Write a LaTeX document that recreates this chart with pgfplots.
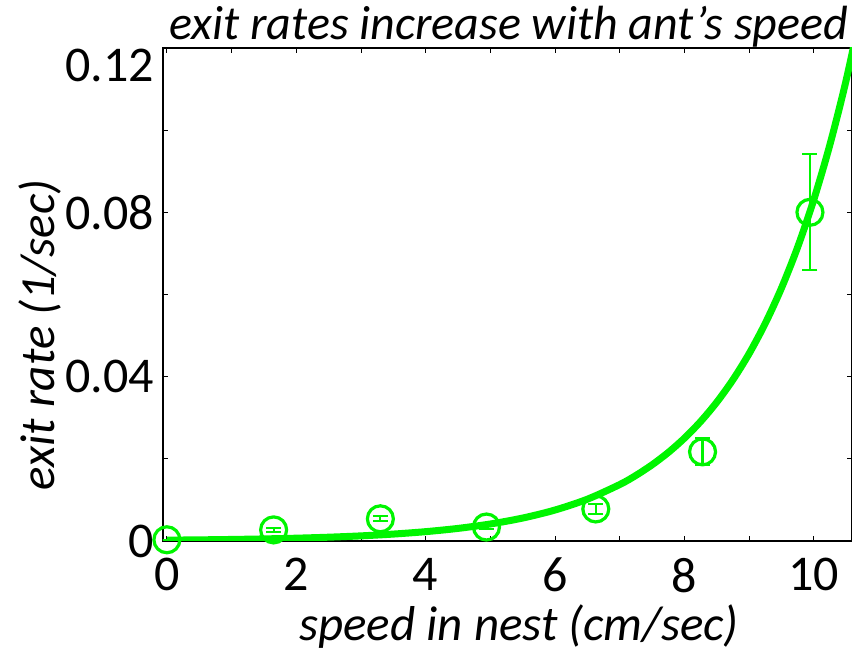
\documentclass[border=0pt]{standalone}
\usepackage{fontspec}
\setmainfont{Carlito}
\usepackage{pgfplots}
\pgfplotsset{compat=1.18}
\definecolor{fitgreen}{RGB}{0,245,0}
\begin{document}
\begin{tikzpicture}
\begin{axis}[name=ax, scale only axis, width=344.5pt, height=246.5pt,
 xmin=-0.06, xmax=10.59, ymin=0, ymax=0.12,
 xtick={0,2,4,6,8,10}, minor xtick={1,3,5,7,9},
 xticklabels={0,2,4,6,8,10},
 ytick={0,0.04,0.08,0.12}, minor ytick={0.02,0.06,0.1},
 yticklabels={0,0.04,0.08,\raisebox{-17pt}[0pt][0pt]{0.12}},
 scaled y ticks=false,
 tick align=inside, major tick length=2.5pt, minor tick length=2.5pt,
 tick style={black, line width=0.4pt},
 axis line style={black, line width=0.7pt},
 tick label style={font=\fontsize{25}{29}\selectfont},
 /pgf/number format/assume math mode=true,
 xticklabel style={yshift=-5pt},
 yticklabel style={xshift=-1pt},
]
\addplot[fitgreen, line width=3.5pt, no marks, smooth] coordinates {
(0,0.000206) (0.5,0.000278) (1,0.000375) (1.5,0.000507) (2,0.000684)
(2.5,0.000923) (3,0.001246) (3.5,0.001682) (4,0.002271) (4.5,0.003065)
(5,0.004138) (5.5,0.005585) (6,0.007539) (6.5,0.010177) (7,0.013737)
(7.25,0.015960) (7.5,0.018544) (7.75,0.021545) (8,0.025031) (8.25,0.029082)
(8.5,0.033789) (8.75,0.039257) (9,0.045610) (9.25,0.052991) (9.5,0.061567)
(9.75,0.071530) (10,0.083106) (10.25,0.096556) (10.5,0.112182) (10.75,0.130336)
};
\addplot[fitgreen, only marks, mark=o, mark size=6.5pt, mark options={line width=1.6pt},
 error bars/.cd, y dir=both, y explicit,
 error bar style={line width=1.1pt, fitgreen},
 error mark options={rotate=90, mark size=3.75pt, line width=1.1pt, fitgreen}]
 table[x=x, y=y, y error=e] {
x y e
0 0.0003 0.0
1.65 0.0027 0.0005
3.3 0.0054 0.0006
4.94 0.0034 0.0005
6.63 0.0078 0.0012
8.28 0.0217 0.0033
9.94 0.0800 0.0141
};
\end{axis}
\node[inner sep=0pt, font=\fontsize{24}{28}\selectfont\itshape] at ([shift={(173pt,257pt)}]ax.south west) {exit rates increase with ant’s speed};
\node[inner sep=0pt, font=\fontsize{24.5}{28}\selectfont\itshape] at ([shift={(178pt,-43pt)}]ax.south west) {speed in nest (cm/sec)};
\node[inner sep=0pt, rotate=90, font=\fontsize{24.5}{28}\selectfont\itshape] at ([shift={(-61.5pt,103pt)}]ax.south west) {exit rate (1/sec)};
\pgfresetboundingbox
\path[use as bounding box] ([shift={(-81.5pt,-55pt)}]ax.south west) rectangle ([shift={(0pt,24pt)}]ax.north east);
\end{tikzpicture}
\end{document}
